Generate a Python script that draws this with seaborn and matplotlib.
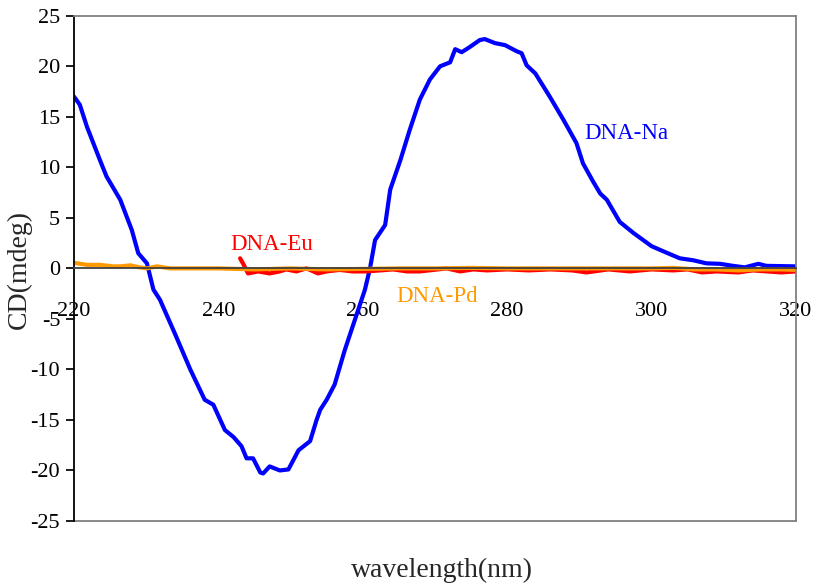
import matplotlib
matplotlib.use("Agg")
import matplotlib.pyplot as plt
import seaborn as sns
import pandas as pd

sns.set_theme(style="white")
plt.rcParams["font.family"] = ["Liberation Serif", "DejaVu Serif"]
plt.rcParams["axes.unicode_minus"] = False

# DNA-Na (blue)
na_wl = [220.0, 220.8, 221.8, 223.6, 224.5, 226.4, 228.0, 228.9, 230.1, 231.0,
         231.9, 234.0, 236.1, 238.1, 239.3, 240.9, 242.1, 243.2, 243.9, 244.8,
         245.8, 246.2, 247.1, 248.5, 249.7, 251.1, 252.7, 253.6, 254.1, 255.0,
         256.1, 257.5, 258.9, 260.3, 261.0, 261.7, 263.1, 263.8, 265.2, 266.5,
         267.9, 269.3, 270.7, 272.1, 272.8, 273.7, 274.8, 276.2, 276.9, 278.3,
         279.7, 281.3, 282.0, 282.7, 283.9, 285.9, 287.8, 289.6, 290.5, 291.9,
         292.9, 293.8, 295.6, 297.5, 300.0, 301.6, 303.9, 305.8, 307.6, 309.5,
         311.3, 312.9, 314.8, 315.9, 320.0]
na_cd = [17.0, 16.2, 14.0, 10.7, 9.1, 6.8, 3.8, 1.5, 0.5, -2.1,
         -3.1, -6.5, -10.0, -13.0, -13.5, -16.0, -16.7, -17.6, -18.8, -18.8,
         -20.2, -20.3, -19.6, -20.0, -19.9, -18.0, -17.1, -15.0, -14.0, -13.0,
         -11.5, -8.1, -5.1, -2.1, 0.0, 2.8, 4.3, 7.8, 10.7, 13.7,
         16.7, 18.7, 20.0, 20.4, 21.7, 21.4, 21.9, 22.6, 22.7, 22.3,
         22.1, 21.5, 21.3, 20.1, 19.3, 17.0, 14.7, 12.4, 10.4, 8.6,
         7.4, 6.8, 4.6, 3.5, 2.2, 1.7, 1.0, 0.8, 0.5, 0.45,
         0.25, 0.1, 0.45, 0.25, 0.2]

# DNA-Eu (red)
eu_wl = [243.0, 243.4, 244.1, 245.5, 247.1, 248.5, 249.4, 250.8, 252.2, 253.8,
         255.0, 256.8, 258.6, 260.5, 262.4, 264.2, 266.1, 267.9, 269.8, 271.6,
         273.5, 275.3, 277.2, 280.0, 283.0, 286.0, 289.0, 291.0, 294.0, 297.0,
         300.0, 303.0, 305.0, 307.0, 309.0, 312.0, 314.0, 316.0, 318.0, 320.0]
eu_cd = [1.0, 0.5, -0.5, -0.3, -0.5, -0.3, -0.1, -0.3, 0.0, -0.5,
         -0.3, -0.15, -0.3, -0.3, -0.2, -0.1, -0.3, -0.3, -0.15, 0.0,
         -0.3, -0.1, -0.2, -0.1, -0.2, -0.1, -0.2, -0.4, -0.1, -0.3,
         -0.1, -0.2, -0.1, -0.4, -0.3, -0.4, -0.2, -0.3, -0.4, -0.3]

# DNA-Pd (orange)
pd_wl = [220.0, 221.8, 223.6, 225.4, 226.4, 227.8, 229.1, 230.1, 231.5, 233.3,
         240.0, 245.0, 250.0, 255.0, 260.0, 265.0, 270.0, 275.0, 280.0, 285.0,
         290.0, 295.0, 300.0, 303.0, 306.0, 309.0, 312.0, 315.0, 318.0, 320.0]
pd_cd = [0.55, 0.35, 0.35, 0.2, 0.2, 0.3, 0.1, 0.0, 0.2, 0.0,
         0.0, -0.1, 0.0, -0.1, -0.05, 0.0, 0.0, 0.05, 0.0, 0.0,
         0.0, 0.0, 0.0, 0.05, -0.1, -0.1, -0.2, -0.1, -0.1, -0.15]

df = pd.concat([
    pd.DataFrame({"wl": na_wl, "cd": na_cd, "s": "DNA-Na"}),
    pd.DataFrame({"wl": eu_wl, "cd": eu_cd, "s": "DNA-Eu"}),
    pd.DataFrame({"wl": pd_wl, "cd": pd_cd, "s": "DNA-Pd"}),
])
colors = {"DNA-Na": "#0000ff", "DNA-Eu": "#ff0000", "DNA-Pd": "#ff9900"}

fig = plt.figure(figsize=(8.18, 5.86), dpi=100)
ax = fig.add_axes([0.0905, 0.111, 0.8825, 0.862])

sns.lineplot(data=df, x="wl", y="cd", hue="s", palette=colors, sort=False,
             estimator=None, linewidth=3, legend=False, ax=ax)

ax.set_xlim(220, 320)
ax.set_ylim(-25, 25)
ax.set_xticks(range(220, 321, 20))
ax.set_yticks(range(-25, 26, 5))

# Excel-style: category axis crosses at zero
ax.spines["bottom"].set_position(("data", 0))
ax.spines["bottom"].set_color("#404040")
ax.spines["left"].set_color("black")
ax.spines["top"].set_color("#808080")
ax.spines["right"].set_color("#808080")
for sp in ax.spines.values():
    sp.set_linewidth(1.3)
ax.axhline(-25, color="#808080", linewidth=1.3, clip_on=False)

ax.tick_params(axis="x", direction="in", length=6, pad=24, labelsize=16,
               colors="#404040", labelcolor="black")
ax.tick_params(axis="y", direction="out", length=6, pad=4, labelsize=16,
               colors="black", left=True)

ax.set_xlabel("")
fig.text(0.54, 0.027, "wavelength(nm)", fontsize=20, ha="center", va="center")
ax.set_ylabel("CD(mdeg)", fontsize=20)
ax.yaxis.set_label_coords(-0.058, 0.497)

ax.text(296.5, 13.4, "DNA-Na", color="#0000ff", fontsize=16.5, ha="center", va="center")
ax.text(241.6, 2.4, "DNA-Eu", color="#ff0000", fontsize=16.5, ha="left", va="center")
ax.text(264.7, -2.8, "DNA-Pd", color="#ff9900", fontsize=16.5, ha="left", va="center")

fig.savefig("out.png", dpi=100)
